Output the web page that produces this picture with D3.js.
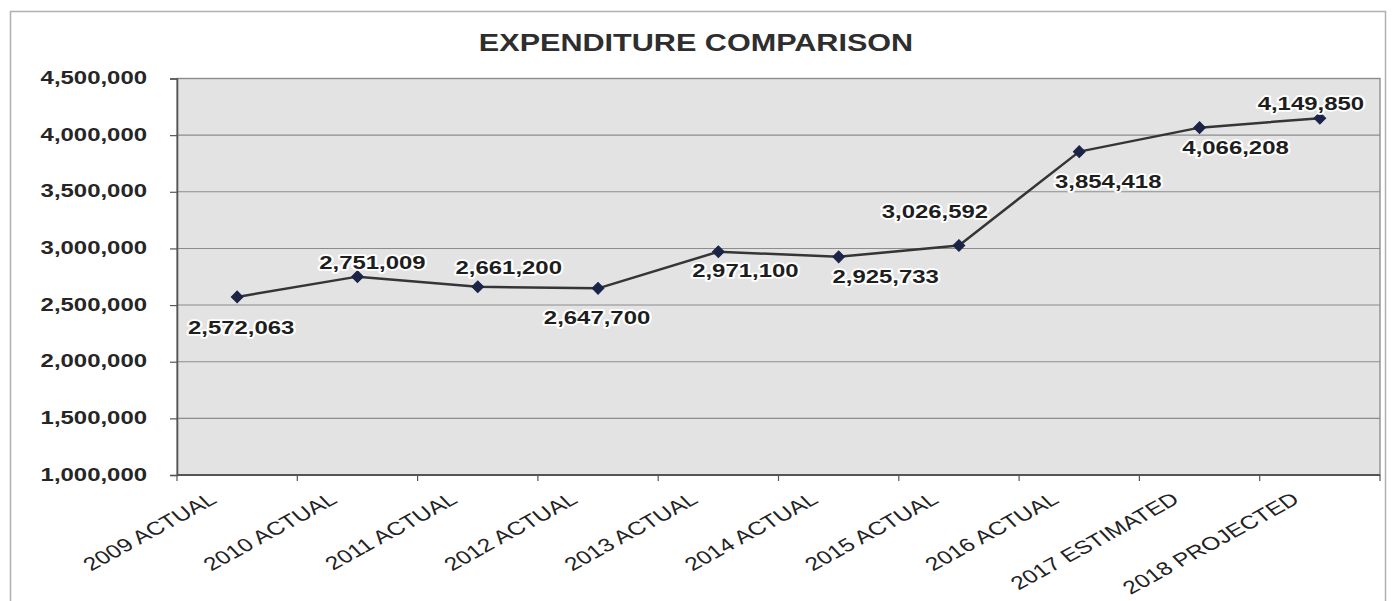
<!DOCTYPE html>
<html>
<head>
<meta charset="utf-8">
<script src="https://cdn.jsdelivr.net/npm/d3@7"></script>
<style>
  html, body { margin: 0; padding: 0; background: #ffffff; }
  svg { display: block; }
  text { font-family: "Liberation Sans", Arial, Helvetica, sans-serif; }
</style>
</head>
<body>
<svg id="chart" width="1394" height="601"></svg>
<script>
// Categories along the x axis
const categories = [
  "2009 ACTUAL", "2010 ACTUAL", "2011 ACTUAL", "2012 ACTUAL", "2013 ACTUAL",
  "2014 ACTUAL", "2015 ACTUAL", "2016 ACTUAL", "2017 ESTIMATED", "2018 PROJECTED"
];
// Expenditure per year
const expenditure = [
  2572063, 2751009, 2661200, 2647700, 2971100,
  2925733, 3026592, 3854418, 4066208, 4149850
];
// Y axis ticks
const yTicks = [1000000, 1500000, 2000000, 2500000, 3000000, 3500000, 4000000, 4500000];
const chartTitle = "EXPENDITURE COMPARISON";

// Hand-placed data label offsets (px from each marker to the label centre)
const labelOffsets = [
  [4, 31], [15, -14], [31, -19], [-1, 29], [27, 19],
  [47, 20], [-24, -34], [29, 30], [36, 20], [-9, -15]
];

const svg = d3.select("#chart");
const SX = 1.33; // horizontal stretch of the chart's lettering

const plot = { left: 177, right: 1380, top: 78.5, bottom: 475 };

const x = d3.scaleBand()
  .domain(categories)
  .range([plot.left, plot.right])
  .padding(0);

const y = d3.scaleLinear()
  .domain([1000000, 4500000])
  .range([plot.bottom, plot.top]);

const fmt = d3.format(",");

// Outer chart frame
svg.append("rect")
  .attr("x", 10.5).attr("y", 11.5)
  .attr("width", 1375).attr("height", 620)
  .attr("fill", "none")
  .attr("stroke", "#b0b0b0")
  .attr("stroke-width", 1.5);

// Title
svg.append("text")
  .attr("transform", `translate(696,51) scale(${SX},1)`)
  .attr("text-anchor", "middle")
  .attr("font-size", 23)
  .attr("font-weight", "bold")
  .attr("fill", "#2e2e2e")
  .text(chartTitle);

// Plot background
svg.append("rect")
  .attr("x", plot.left).attr("y", plot.top)
  .attr("width", plot.right - plot.left)
  .attr("height", plot.bottom - plot.top)
  .attr("fill", "#e3e3e3")
  .attr("stroke", "#8f8f8f")
  .attr("stroke-width", 1.4);

// Horizontal gridlines
svg.append("g")
  .selectAll("line")
  .data(yTicks.filter(d => d > 1000000))
  .join("line")
  .attr("x1", plot.left).attr("x2", plot.right)
  .attr("y1", d => y(d)).attr("y2", d => y(d))
  .attr("stroke", "#8c8c8c")
  .attr("stroke-width", 1.1);

// Y axis
const yAxis = svg.append("g")
  .attr("transform", `translate(${plot.left},0)`)
  .call(d3.axisLeft(y).tickValues(yTicks).tickSize(7).tickFormat(""));
yAxis.select(".domain").attr("stroke", "#555").attr("stroke-width", 1.6);
yAxis.selectAll(".tick line").attr("stroke", "#555").attr("stroke-width", 1.2);

svg.append("g")
  .selectAll("text")
  .data(yTicks)
  .join("text")
  .attr("transform", d => `translate(147,${y(d) + 5.5}) scale(${SX},1)`)
  .attr("text-anchor", "end")
  .attr("font-size", 18)
  .attr("font-weight", "bold")
  .attr("fill", "#262626")
  .text(d => fmt(d));

// X axis with ticks on the band boundaries
const boundaries = categories.map(c => x(c)).concat([plot.right]);
svg.append("line")
  .attr("x1", plot.left).attr("x2", plot.right)
  .attr("y1", plot.bottom).attr("y2", plot.bottom)
  .attr("stroke", "#555").attr("stroke-width", 1.8);
svg.append("g")
  .selectAll("line")
  .data(boundaries)
  .join("line")
  .attr("x1", d => d).attr("x2", d => d)
  .attr("y1", plot.bottom).attr("y2", plot.bottom + 6)
  .attr("stroke", "#555").attr("stroke-width", 1.2);

// Rotated category labels
svg.append("g")
  .selectAll("text")
  .data(categories)
  .join("text")
  .attr("transform", d => `translate(${x(d) + x.bandwidth() / 2 - 19},${plot.bottom + 27}) scale(${SX},1) rotate(-36)`)
  .attr("text-anchor", "end")
  .attr("font-size", 18.5)
  .attr("fill", "#222")
  .text(d => d);

// Series line
const pts = categories.map((c, i) => ({ c, v: expenditure[i], i }));
const cx = d => x(d.c) + x.bandwidth() / 2;

svg.append("path")
  .datum(pts)
  .attr("fill", "none")
  .attr("stroke", "#353535")
  .attr("stroke-width", 2.5)
  .attr("stroke-linejoin", "round")
  .attr("d", d3.line().x(cx).y(d => y(d.v)));

// Diamond markers (squares turned 45 degrees)
svg.append("g")
  .selectAll("path")
  .data(pts)
  .join("path")
  .attr("transform", d => `translate(${cx(d)},${y(d.v)}) rotate(45)`)
  .attr("d", d3.symbol().type(d3.symbolSquare).size(68))
  .attr("fill", "#1b2447")
  .attr("stroke", "#1b2447")
  .attr("stroke-width", 1);

// Data labels with a white halo
svg.append("g")
  .selectAll("text")
  .data(pts)
  .join("text")
  .attr("transform", d => {
    const o = labelOffsets[d.i];
    return `translate(${cx(d) + o[0]},${y(d.v) + o[1] + 6.5}) scale(${SX},1)`;
  })
  .attr("text-anchor", "middle")
  .attr("font-size", 18)
  .attr("font-weight", "bold")
  .attr("fill", "#1e1e1e")
  .attr("stroke", "#ffffff")
  .attr("stroke-width", 3.5)
  .attr("stroke-linejoin", "round")
  .attr("paint-order", "stroke")
  .text(d => fmt(d.v));
</script>
</body>
</html>
